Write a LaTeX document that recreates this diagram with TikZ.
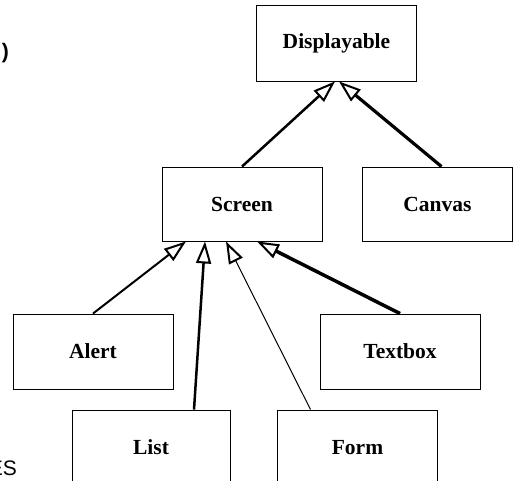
\documentclass[tikz,border=0pt]{standalone}
\usepackage{fontspec}
\setmainfont{Liberation Serif}
\newfontfamily\labelsans{Liberation Sans}
\usetikzlibrary{arrows.meta}
\begin{document}
\begin{tikzpicture}[x=1pt,y=-1pt,
  cls/.style={draw, line width=0.9pt, minimum width=160pt, minimum height=75pt,
    inner sep=0pt, font=\fontsize{21.5}{24}\selectfont\bfseries},
  inherit/.style={-{Triangle[open,length=22pt,width=15pt,line width=2pt]},
    line width=#1},
  stray/.style={inner sep=0pt, anchor=base east},
]
\clip (0,0) rectangle (516,481);

% class boxes
\node[cls, minimum height=76pt] (disp) at (336.5,43) {Displayable};
\node[cls, minimum height=74pt] (screen) at (242,204) {Screen};
\node[cls, minimum width=150pt, minimum height=74pt] (canvas) at (437.5,204) {Canvas};
\node[cls] (alert) at (93,351.5) {Alert};
\node[cls] (textbox) at (400,351.5) {Textbox};
\node[cls, minimum width=158pt] (list) at (151,447.5) {List};
\node[cls] (form) at (357.5,447.5) {Form};

% inheritance arrows
\draw[inherit=2.5pt] (screen.north) -- ([xshift=-1.5pt]disp.south);
\draw[inherit=3.2pt] ([xshift=4pt]canvas.north) -- ([xshift=2.5pt]disp.south);
\draw[inherit=2pt] (alert.north) -- ([xshift=-56pt]screen.south);
\draw[inherit=2.5pt] ([xshift=43pt]list.north) -- ([xshift=-37pt]screen.south);
\draw[inherit=1pt] ([xshift=-47pt]form.north) -- ([xshift=-16pt]screen.south);
\draw[inherit=3.5pt] (textbox.north) -- ([xshift=15pt]screen.south);

% text fragments at the left edge
\node[stray, font=\labelsans\bfseries\fontsize{21}{24}\selectfont] (paren) at (9,59) {)};
\node[stray, font=\labelsans\fontsize{21}{24}\selectfont] (es) at (17,475) {ES};
\end{tikzpicture}
\end{document}
